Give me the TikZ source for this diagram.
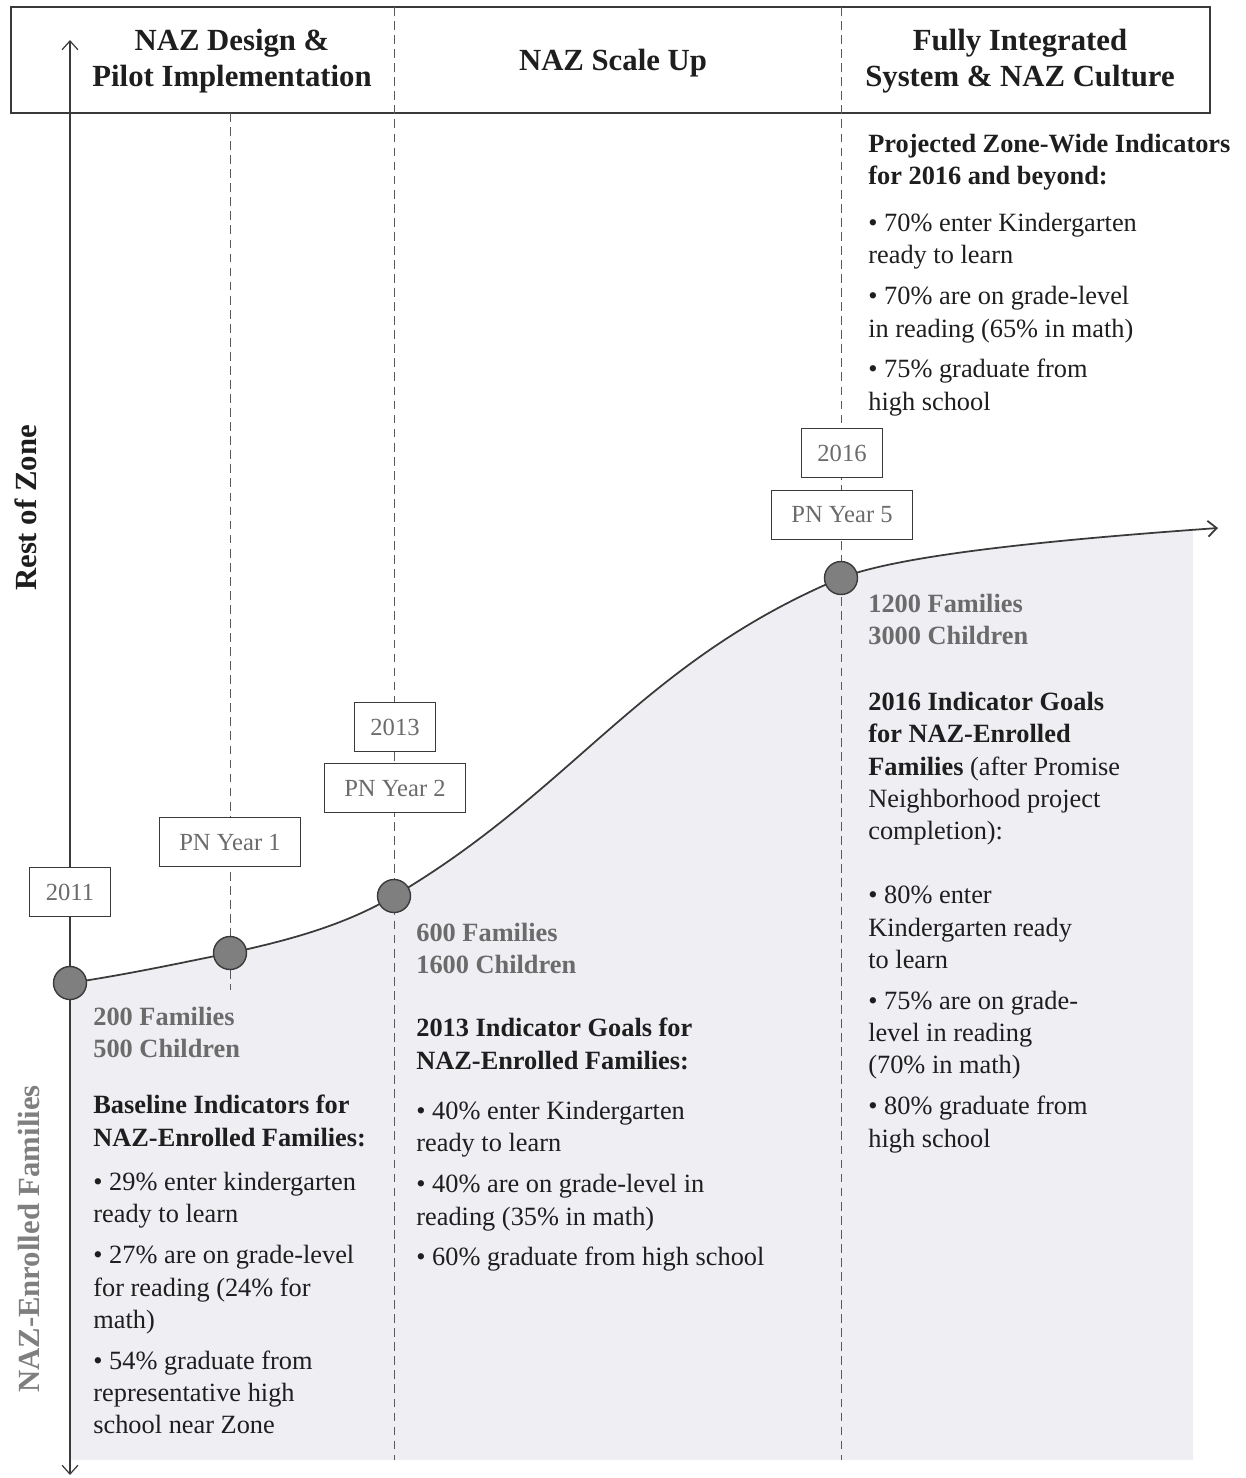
\documentclass[tikz,border=0pt]{standalone}
\usepackage{fontspec}
\setmainfont{Liberation Serif}
\usepackage{xcolor}
\usetikzlibrary{arrows.meta}
\definecolor{inkdark}{HTML}{1E1E1E}
\definecolor{linegray}{HTML}{3A3A3A}
\definecolor{dashgray}{HTML}{5A5A5A}
\definecolor{labelgray}{HTML}{6B6B6B}
\definecolor{dotgray}{HTML}{7F7F7F}
\definecolor{zonebg}{HTML}{EEEEF3}
\newcommand{\bodyfont}{\fontsize{15}{18.4}\selectfont}
\newcommand{\headfont}{\fontsize{17.5}{20.4}\selectfont\bfseries}
\tikzset{body/.style={font=\bodyfont,text=inkdark,align=left,inner sep=0,anchor=north west},
  count/.style={body,text=labelgray,font=\bodyfont\bfseries},
  phase/.style={font=\headfont,text=inkdark,align=center,inner sep=0},
  yearbox/.style={draw=linegray,line width=0.6pt,fill=white,text=labelgray,font=\fontsize{14}{16}\selectfont,minimum height=0.98cm,minimum width=1.62cm,inner sep=0},
  pnbox/.style={yearbox,minimum width=2.82cm},
  dot/.style={circle,draw=linegray,line width=0.8pt,fill=dotgray,minimum size=0.66cm,inner sep=0},
  guide/.style={dashgray,line width=0.5pt,dash pattern=on 5pt off 3pt},
  barb/.style={line width=0.7pt,linegray,arrows={-Straight Barb[length=5pt,width=9pt]}}}

\begin{document}
\begin{tikzpicture}[x=0.02cm,y=-0.02cm]
\useasboundingbox (0,0) rectangle (1245,1478);
\coordinate (p2011) at (70,983); \coordinate (p2012) at (230,953); \coordinate (p2013) at (394,896);
\coordinate (p2016) at (841,578); \coordinate (pend) at (1218,528);
% area under the curve
\begin{scope}
\clip (70,0) rectangle (1193,1460);
\fill[zonebg] (p2011) .. controls (130,974) and (180,963) .. (p2012) .. controls (290,940) and (345,925) .. (p2013)
  .. controls (574,790) and (641,662) .. (p2016) .. controls (900,555) and (1050,540) .. (pend) -- (1218,1460) -- (70,1460) -- cycle;
\end{scope}
% phase header
\draw[linegray,line width=0.9pt] (11,7) rectangle (1210,113);
\draw[guide] (230,113) -- (230,990); \draw[guide] (394,7) -- (394,1460); \draw[guide] (841,7) -- (841,1460);
\node[phase] (design) at (232,61) {NAZ Design \&\\Pilot Implementation};
\node[phase] (scaleup) at (613,63) {NAZ Scale Up};
\node[phase] (culture) at (1020,61) {Fully Integrated\\System \& NAZ Culture};
% axes
\coordinate (axtop) at (70,40); \coordinate (axbot) at (70,1475);
\draw[barb,arrows={Straight Barb[length=5pt,width=9pt]-Straight Barb[length=5pt,width=9pt]}] (axtop) -- (axbot);
\node[phase,rotate=90] (restzone) at (26,508) {Rest of Zone};
\node[phase,rotate=90,text=dotgray] (enrolled) at (29,1239) {NAZ-Enrolled Families};
% growth curve
\draw[barb,line width=1pt] (p2011) .. controls (130,974) and (180,963) .. (p2012) .. controls (290,940) and (345,925) .. (p2013)
  .. controls (574,790) and (641,662) .. (p2016) .. controls (900,555) and (1050,540) .. (pend);
\node[dot] (d2011) at (p2011) {}; \node[dot] (d2012) at (p2012) {}; \node[dot] (d2013) at (p2013) {}; \node[dot] (d2016) at (p2016) {};
\node[yearbox] (y2011) at (70,892) {2011};
\node[pnbox] (pn1) at (230,842) {PN Year 1};
\node[yearbox] (y2013) at (395,727) {2013};
\node[pnbox] (pn2) at (395,788) {PN Year 2};
\node[yearbox] (y2016) at (842,453) {2016};
\node[pnbox] (pn5) at (842,515) {PN Year 5};
% baseline column
\node[count] (n2011) at (93,1007) {200 Families\\500 Children};
\node[body,font=\bodyfont\bfseries] (h2011) at (93,1095) {Baseline Indicators for\\NAZ-Enrolled Families:};
\node[body] (b2011) at (93,1172) {• 29\% enter kindergarten\\ready to learn\\[4.8pt]• 27\% are on grade-level\\for reading (24\% for\\math)\\[4.8pt]• 54\% graduate from\\representative high\\school near Zone};
% 2013 column
\node[count] (n2013) at (416,923) {600 Families\\1600 Children};
\node[body,font=\bodyfont\bfseries] (h2013) at (416,1018) {2013 Indicator Goals for\\NAZ-Enrolled Families:};
\node[body] (b2013) at (416,1101) {• 40\% enter Kindergarten\\ready to learn\\[4.8pt]• 40\% are on grade-level in\\reading (35\% in math)\\[4.8pt]• 60\% graduate from high school};
% 2016 column
\node[body,font=\bodyfont\bfseries] (hzone) at (868,134) {Projected Zone-Wide Indicators\\for 2016 and beyond:};
\node[body] (bzone) at (868,213) {• 70\% enter Kindergarten\\ready to learn\\[4.8pt]• 70\% are on grade-level\\in reading (65\% in math)\\[4.8pt]• 75\% graduate from\\high school};
\node[count] (n2016) at (868,594) {1200 Families\\3000 Children};
\node[body] (h2016) at (868,692) {\textbf{2016 Indicator Goals}\\\textbf{for NAZ-Enrolled}\\\textbf{Families} (after Promise\\Neighborhood project\\completion):};
\node[body] (b2016) at (868,886) {• 80\% enter\\Kindergarten ready\\to learn\\[4.8pt]• 75\% are on grade-\\level in reading\\(70\% in math)\\[4.8pt]• 80\% graduate from\\high school};
\end{tikzpicture}
\end{document}
